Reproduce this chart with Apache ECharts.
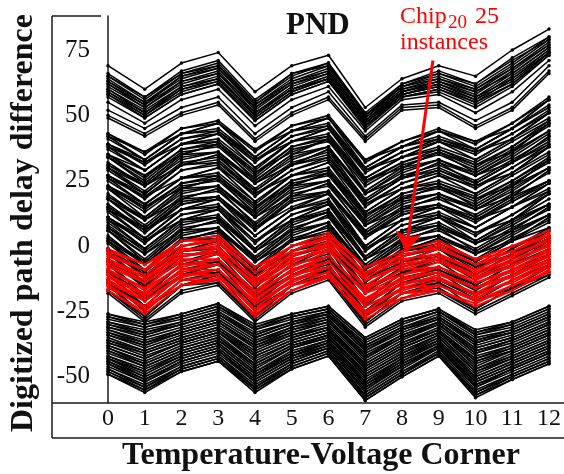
<!DOCTYPE html>
<html>
<head>
<meta charset="utf-8">
<script src="https://cdn.jsdelivr.net/npm/echarts@6/dist/echarts.min.js"></script>
<style>
  html, body { margin: 0; padding: 0; background: #fff; }
  #chart { width: 564px; height: 474px; }
</style>
</head>
<body>
<div id="chart"></div>
<script>
// Temperature-voltage corners on the x axis
const corners = [0, 1, 2, 3, 4, 5, 6, 7, 8, 9, 10, 11, 12];
const yTickValues = [-50, -25, 0, 25, 50, 75];

// Upper band of path-delay-difference traces (one row per path, one value per corner)
const upperPaths = [
  [69,60,70,74,59,69,73,53,64,69,65,75,83],
  [66,57,67,71,56,66,70,51,62,67,62,72,80],
  [65,57,66,69,55,66,69,50,61,66,62,71,79],
  [65,56,66,70,55,65,70,50,62,66,61,70,80],
  [64,55,65,69,54,64,69,50,61,65,60,69,79],
  [63,55,64,68,53,63,68,49,60,64,59,68,78],
  [63,54,65,68,54,63,67,49,61,64,60,68,77],
  [62,54,63,67,52,62,67,48,60,63,58,67,77],
  [62,53,63,66,53,62,66,48,59,63,59,66,76],
  [61,53,62,66,51,61,66,48,59,63,57,66,76],
  [60,52,61,65,50,60,65,47,59,62,56,65,75],
  [60,51,61,64,51,60,64,47,58,62,57,64,74],
  [59,51,60,64,50,60,65,47,58,61,55,64,75],
  [59,50,60,63,49,59,64,46,58,61,56,63,74],
  [58,50,59,63,49,59,64,46,57,60,54,62,74],
  [58,49,58,62,48,58,63,46,57,60,55,62,73],
  [57,49,58,62,48,58,63,45,57,59,53,61,73],
  [55,47,56,60,46,56,61,44,56,58,51,59,71],
  [52,45,53,57,43,53,59,42,54,55,48,55,69],
  [50,43,51,55,41,51,57,41,53,54,46,53,67],
  [49,42,50,54,40,50,56,40,52,53,45,52,66]
];

// Central band of traces
const middlePaths = [
  [43,36,45,48,37,46,50,33,40,45,40,47,57],
  [42,36,43,47,37,44,49,33,38,44,40,45,56],
  [42,33,43,47,34,44,49,30,38,44,37,45,56],
  [39,33,43,44,34,44,46,30,38,41,37,45,53],
  [39,32,41,44,33,42,46,29,36,41,36,43,52],
  [38,32,39,43,33,40,45,29,34,40,36,41,51],
  [38,29,39,43,30,40,45,26,34,40,33,41,51],
  [35,29,39,40,29,40,42,26,34,37,32,40,48],
  [35,27,37,40,28,38,42,25,32,37,31,38,48],
  [34,27,35,39,28,36,41,25,30,36,31,36,47],
  [34,24,35,39,25,35,41,21,30,36,28,36,47],
  [31,24,35,36,25,35,38,21,30,33,28,36,44],
  [31,23,33,36,24,33,38,20,28,33,27,34,43],
  [30,23,31,35,24,31,37,20,26,32,27,32,42],
  [30,20,31,35,21,31,37,17,26,32,24,32,42],
  [27,20,31,32,21,31,34,17,26,29,24,32,39],
  [27,19,29,32,20,29,34,16,24,29,23,30,39],
  [26,19,26,30,20,27,32,16,22,27,23,28,38],
  [26,16,26,30,17,27,32,13,22,27,20,28,38],
  [23,16,26,27,16,27,29,13,22,24,19,27,35],
  [23,15,24,27,15,25,29,12,20,24,18,25,34],
  [22,15,22,26,15,23,28,12,18,23,18,23,33],
  [22,11,22,26,12,23,28,9,18,23,15,23,33],
  [19,11,22,23,12,23,25,9,18,20,15,23,30],
  [19,10,20,23,11,21,25,8,16,20,14,21,30],
  [18,10,18,22,11,19,24,8,14,19,14,19,29],
  [18,7,18,22,8,19,24,5,14,19,11,19,29],
  [15,7,18,19,8,19,21,5,14,16,11,19,25],
  [15,6,16,19,7,17,21,4,12,16,10,17,25],
  [14,6,14,18,7,15,20,4,10,15,10,15,24],
  [14,3,14,18,4,14,20,0,10,15,7,15,24],
  [11,3,14,15,4,14,17,0,10,12,7,15,21],
  [11,2,12,15,2,12,17,-1,8,12,5,12,21],
  [10,2,10,14,2,10,16,-1,6,11,5,10,20],
  [10,-1,10,14,-1,10,16,-4,6,11,2,10,20],
  [7,-1,10,11,-1,10,13,-4,6,8,2,10,16],
  [7,-3,8,11,-2,8,13,-5,4,8,1,8,16],
  [6,-3,6,10,-2,6,12,-5,2,7,1,6,15],
  [6,-6,6,10,-5,6,12,-8,2,7,-2,6,15],
  [3,-6,6,7,-5,6,9,-8,2,4,-2,6,12],
  [3,-7,4,7,-6,4,9,-9,0,4,-3,4,12],
  [2,-7,2,6,-6,2,8,-9,-2,3,-3,2,11],
  [2,-10,2,6,-9,2,8,-12,-2,3,-6,2,11],
  [-1,-10,2,3,-9,2,5,-12,-2,0,-6,2,7],
  [-1,-11,0,3,-11,0,5,-13,-4,0,-8,-1,7],
  [-2,-11,-2,2,-11,-2,4,-13,-6,-1,-8,-3,6],
  [-2,-14,-2,2,-14,-2,4,-16,-6,-1,-11,-3,6],
  [-5,-14,-2,-1,-14,-2,1,-16,-6,-4,-11,-3,3],
  [-5,-15,-4,-1,-15,-4,1,-17,-8,-4,-12,-5,3],
  [-6,-15,-6,-2,-15,-6,0,-17,-10,-5,-12,-7,2],
  [-6,-19,-7,-3,-18,-7,-1,-21,-10,-6,-15,-7,1],
  [-9,-19,-7,-6,-18,-7,-4,-21,-10,-9,-15,-7,-2],
  [-9,-20,-9,-6,-19,-9,-4,-22,-12,-9,-16,-9,-2],
  [-10,-20,-11,-7,-19,-11,-5,-22,-14,-10,-16,-11,-3],
  [-10,-23,-11,-7,-22,-11,-5,-25,-14,-10,-19,-11,-3],
  [-13,-23,-11,-10,-22,-11,-8,-25,-14,-13,-19,-11,-6],
  [-13,-24,-13,-10,-23,-13,-8,-26,-16,-13,-20,-13,-6],
  [-14,-24,-15,-11,-24,-15,-9,-26,-18,-14,-21,-16,-7],
  [-14,-27,-15,-11,-27,-15,-9,-29,-18,-14,-24,-16,-8],
  [-17,-27,-15,-14,-27,-15,-12,-29,-18,-17,-24,-16,-11],
  [-17,-28,-17,-14,-28,-17,-12,-30,-20,-17,-25,-18,-11],
  [-18,-29,-18,-15,-29,-18,-13,-31,-21,-18,-26,-19,-12],
  [43,35,45,47,36,46,49,32,40,44,39,47,56],
  [41,33,43,45,34,44,47,30,38,42,37,45,54],
  [39,31,41,43,32,42,45,28,36,40,35,43,51],
  [37,29,39,41,30,40,43,26,34,38,33,41,49],
  [35,26,37,39,27,38,41,24,32,36,30,38,47],
  [34,25,36,38,26,37,40,23,31,35,29,37,46],
  [32,23,34,36,24,34,38,20,29,33,27,35,44],
  [30,21,32,34,22,32,36,18,27,31,25,33,41],
  [29,20,31,33,21,31,35,17,26,30,24,32,40],
  [27,18,29,31,19,29,33,15,24,28,22,30,38],
  [25,16,26,28,17,27,30,13,22,25,20,28,36],
  [23,14,24,26,14,25,28,11,20,23,17,25,33],
  [22,13,23,25,13,24,27,10,19,22,16,24,32],
  [20,10,21,23,11,22,25,8,17,20,14,22,30],
  [18,8,19,21,9,20,23,6,15,18,12,20,28],
  [16,6,17,19,7,18,21,4,13,16,10,18,25],
  [15,5,16,18,6,17,20,3,12,15,9,17,24],
  [13,3,14,16,4,14,18,0,10,13,7,15,22],
  [11,1,12,14,1,12,16,-2,8,11,4,12,20],
  [9,-1,10,12,-1,10,14,-4,6,9,2,10,18],
  [8,-2,9,11,-2,9,13,-5,5,8,1,9,16],
  [6,-5,7,9,-4,7,11,-7,3,6,-1,7,14],
  [4,-7,5,7,-6,5,9,-9,1,4,-3,5,12],
  [2,-9,3,5,-8,3,7,-11,-1,2,-5,3,10],
  [1,-10,2,4,-9,2,6,-12,-2,1,-6,2,9],
  [-1,-12,0,2,-12,0,4,-14,-4,-1,-9,-1,6],
  [-3,-14,-2,0,-14,-2,2,-16,-6,-3,-11,-3,4],
  [-5,-16,-4,-2,-16,-4,0,-18,-8,-5,-13,-5,2],
  [-7,-19,-7,-5,-18,-7,-3,-21,-10,-8,-15,-7,-1],
  [-9,-21,-9,-7,-20,-9,-5,-23,-12,-10,-17,-9,-3],
  [-11,-23,-11,-9,-22,-11,-7,-25,-14,-12,-19,-11,-5],
  [-13,-25,-13,-11,-24,-13,-9,-27,-16,-14,-21,-13,-7],
  [-15,-27,-15,-13,-27,-15,-11,-29,-18,-16,-24,-16,-10]
];

// Lower band of traces
const lowerPaths = [
  [-26,-29,-26,-22,-30,-26,-23,-35,-28,-24,-32,-29,-23],
  [-26,-30,-26,-22,-31,-26,-23,-35,-28,-24,-33,-29,-23],
  [-27,-30,-27,-23,-31,-27,-24,-36,-29,-25,-33,-30,-24],
  [-27,-31,-27,-23,-32,-27,-24,-36,-29,-25,-34,-30,-24],
  [-28,-31,-28,-24,-32,-28,-25,-37,-30,-25,-34,-31,-25],
  [-29,-32,-29,-25,-33,-29,-25,-38,-31,-26,-35,-32,-26],
  [-29,-33,-29,-25,-34,-29,-26,-38,-31,-27,-36,-32,-26],
  [-30,-33,-30,-26,-34,-29,-26,-39,-32,-27,-36,-33,-27],
  [-30,-34,-30,-26,-35,-30,-26,-39,-32,-27,-37,-33,-27],
  [-31,-34,-30,-26,-35,-30,-27,-40,-32,-28,-37,-33,-27],
  [-31,-35,-31,-27,-36,-31,-27,-40,-33,-28,-38,-34,-28],
  [-32,-36,-32,-28,-37,-31,-28,-41,-34,-29,-39,-35,-29],
  [-32,-37,-32,-28,-37,-32,-28,-42,-34,-29,-39,-35,-29],
  [-33,-37,-33,-29,-38,-32,-29,-42,-35,-29,-40,-36,-30],
  [-33,-38,-33,-29,-38,-33,-29,-43,-35,-30,-40,-36,-30],
  [-34,-38,-33,-29,-39,-33,-29,-43,-35,-30,-41,-36,-30],
  [-34,-39,-34,-30,-39,-34,-30,-44,-36,-30,-41,-37,-31],
  [-35,-40,-35,-31,-40,-34,-31,-45,-37,-31,-42,-38,-32],
  [-36,-40,-35,-31,-41,-35,-31,-45,-37,-32,-43,-38,-32],
  [-36,-41,-36,-32,-41,-35,-31,-46,-38,-32,-43,-39,-33],
  [-37,-41,-36,-32,-42,-36,-32,-46,-38,-32,-44,-39,-33],
  [-37,-42,-37,-33,-42,-36,-32,-47,-39,-33,-44,-40,-34],
  [-38,-43,-37,-33,-43,-37,-33,-47,-39,-33,-45,-40,-34],
  [-38,-43,-37,-33,-44,-37,-33,-47,-39,-33,-46,-40,-34],
  [-39,-44,-38,-34,-45,-38,-34,-48,-40,-34,-47,-41,-35],
  [-39,-45,-39,-35,-45,-38,-34,-49,-41,-34,-47,-42,-36],
  [-40,-45,-39,-35,-46,-39,-34,-49,-41,-35,-48,-42,-36],
  [-40,-46,-40,-36,-46,-39,-35,-50,-42,-35,-48,-43,-37],
  [-41,-46,-40,-36,-47,-39,-35,-50,-42,-36,-49,-43,-37],
  [-42,-47,-41,-37,-48,-40,-36,-51,-43,-36,-50,-44,-38],
  [-42,-48,-41,-37,-48,-41,-36,-52,-43,-37,-50,-44,-38],
  [-43,-48,-42,-38,-49,-41,-37,-52,-44,-37,-51,-45,-39],
  [-43,-49,-42,-38,-49,-42,-37,-53,-44,-37,-51,-45,-39],
  [-43,-50,-43,-39,-50,-42,-37,-53,-45,-38,-52,-46,-40],
  [-44,-50,-43,-39,-50,-42,-38,-54,-45,-38,-52,-46,-40],
  [-44,-51,-44,-40,-51,-43,-38,-54,-46,-38,-53,-47,-41],
  [-45,-51,-44,-40,-51,-43,-39,-55,-46,-39,-53,-47,-41],
  [-45,-52,-44,-40,-52,-44,-39,-55,-46,-39,-54,-47,-41],
  [-46,-52,-45,-41,-52,-44,-39,-56,-47,-39,-54,-48,-42],
  [-47,-53,-46,-42,-53,-45,-40,-57,-48,-40,-55,-49,-43],
  [-47,-54,-46,-42,-54,-45,-40,-57,-48,-41,-56,-49,-43],
  [-48,-54,-47,-43,-54,-46,-41,-58,-49,-41,-56,-50,-44],
  [-48,-55,-47,-43,-55,-46,-41,-58,-49,-41,-57,-50,-44],
  [-49,-55,-48,-44,-55,-47,-42,-59,-50,-42,-57,-51,-45],
  [-49,-56,-48,-44,-56,-47,-42,-59,-50,-42,-58,-51,-45]
];

// The 25 instances of Chip 20
const chip20Paths = [
  [-1,-7,2,4,-8,0,5,-8,-2,2,-5,0,6],
  [-2,-7,0,3,-8,-2,4,-8,-4,1,-5,-2,5],
  [-3,-9,2,2,-10,0,3,-10,-3,-1,-7,0,4],
  [-3,-9,0,2,-10,-2,3,-11,-4,0,-7,-2,4],
  [-4,-9,-2,1,-10,-4,2,-10,-6,-1,-7,-4,3],
  [-5,-11,-1,-1,-12,-3,0,-12,-5,-3,-9,-3,2],
  [-5,-12,-2,0,-13,-4,1,-13,-7,-3,-10,-4,2],
  [-6,-12,-4,-1,-13,-6,0,-13,-8,-4,-9,-6,1],
  [-7,-13,-3,-3,-14,-5,-2,-15,-7,-5,-11,-5,0],
  [-7,-14,-4,-2,-15,-6,-1,-16,-9,-5,-12,-6,0],
  [-8,-14,-6,-3,-15,-8,-2,-15,-11,-6,-12,-8,-1],
  [-9,-16,-5,-5,-17,-7,-4,-17,-9,-8,-13,-7,-2],
  [-9,-17,-7,-5,-18,-9,-4,-18,-11,-8,-14,-9,-2],
  [-10,-16,-8,-5,-17,-10,-4,-18,-13,-8,-14,-10,-3],
  [-11,-18,-7,-7,-19,-9,-6,-20,-12,-10,-16,-9,-4],
  [-11,-19,-9,-7,-20,-11,-6,-21,-13,-10,-16,-11,-4],
  [-12,-19,-10,-7,-20,-12,-6,-20,-15,-11,-16,-12,-5],
  [-13,-20,-9,-9,-21,-11,-8,-22,-14,-12,-18,-11,-6],
  [-13,-21,-11,-9,-22,-13,-8,-23,-16,-12,-19,-13,-6],
  [-14,-21,-12,-9,-22,-14,-8,-23,-17,-13,-18,-14,-7],
  [-15,-23,-11,-11,-24,-13,-10,-25,-16,-15,-20,-13,-8],
  [-15,-24,-13,-11,-25,-15,-10,-26,-18,-15,-21,-15,-8],
  [-16,-23,-15,-12,-24,-17,-11,-25,-20,-15,-21,-17,-9],
  [-17,-25,-13,-13,-26,-15,-12,-27,-18,-17,-22,-15,-10],
  [-17,-26,-15,-13,-27,-17,-12,-28,-20,-17,-23,-17,-10]
];

// Annotation arrow: from the caption down to the Chip 20 band at corner 8
const arrowFrom = [8.84, 71];
const arrowTo = [8.11, -2.3];

const serif = "'Liberation Serif', 'Times New Roman', serif";
const ink = '#111';

function pathSeries(rows, color, width) {
  return rows.map(function (row) {
    return {
      type: 'line',
      data: row.map(function (v, i) { return [corners[i], v]; }),
      symbol: 'circle',
      symbolSize: 3.5,
      showSymbol: true,
      lineStyle: { color: color, width: width },
      itemStyle: { color: color },
      emphasis: { disabled: true },
      silent: true,
      animation: false
    };
  });
}

const series = []
  .concat(pathSeries(lowerPaths, '#000', 1.6))
  .concat(pathSeries(upperPaths, '#000', 1.5))
  .concat(pathSeries(middlePaths, '#000', 1.6))
  .concat(pathSeries(chip20Paths, '#ff0000', 1.8));

// Arrow pointing at the highlighted chip
series.push({
  type: 'line',
  data: [],
  silent: true,
  animation: false,
  markLine: {
    silent: true,
    animation: false,
    symbol: ['none', 'arrow'],
    symbolSize: 20,
    label: { show: false },
    lineStyle: { color: '#ff0000', width: 3, type: 'solid' },
    data: [[{ coord: arrowFrom }, { coord: arrowTo }]]
  }
});

const frame = { stroke: '#1a1a1a', lineWidth: 1.5 };

const chart = echarts.init(document.getElementById('chart'), null, { renderer: 'canvas' });
chart.setOption({
  animation: false,
  backgroundColor: '#fff',
  title: {
    text: 'PND',
    left: 281,
    top: 5,
    textStyle: { fontFamily: serif, fontWeight: 'bold', fontSize: 31, color: ink }
  },
  grid: { left: 108, right: 12, top: 16, bottom: 71, containLabel: false },
  xAxis: {
    type: 'value',
    min: 0,
    max: 12,
    interval: 1,
    axisLine: { show: false },
    axisTick: { show: false },
    splitLine: { show: false },
    axisLabel: { fontFamily: serif, fontSize: 24, color: ink, margin: 4 }
  },
  yAxis: {
    type: 'value',
    min: -60,
    max: 88,
    offset: 7,
    axisLine: { show: true, lineStyle: { color: '#1a1a1a', width: 1.5 } },
    axisTick: { show: false },
    splitLine: { show: false },
    axisLabel: {
      customValues: yTickValues,
      fontFamily: serif, fontSize: 25, color: ink, margin: 11
    }
  },
  graphic: [
    { type: 'line', shape: { x1: 52, y1: 16, x2: 101, y2: 16 }, style: frame, silent: true },
    { type: 'line', shape: { x1: 52, y1: 16, x2: 52, y2: 438 }, style: frame, silent: true },
    { type: 'line', shape: { x1: 52, y1: 403, x2: 564, y2: 403 }, style: frame, silent: true },
    { type: 'line', shape: { x1: 52, y1: 438, x2: 564, y2: 438 }, style: frame, silent: true },
    {
      type: 'text', x: 24, y: 223, rotation: Math.PI / 2, silent: true,
      style: { text: 'Digitized path delay difference', fontFamily: serif, fontWeight: 'bold',
               fontSize: 32, fill: ink, align: 'center', verticalAlign: 'middle' }
    },
    {
      type: 'text', x: 321, y: 456, silent: true,
      style: { text: 'Temperature-Voltage Corner', fontFamily: serif, fontWeight: 'bold',
               fontSize: 32, fill: ink, align: 'center', verticalAlign: 'middle' }
    },
    { type: 'text', x: 400, y: 5, silent: true,
      style: { text: 'Chip', fontFamily: serif, fontSize: 24, fill: '#ff0000', verticalAlign: 'top' } },
    { type: 'text', x: 448, y: 14, silent: true,
      style: { text: '20', fontFamily: serif, fontSize: 19, fill: '#ff0000', verticalAlign: 'top' } },
    { type: 'text', x: 475, y: 5, silent: true,
      style: { text: '25', fontFamily: serif, fontSize: 24, fill: '#ff0000', verticalAlign: 'top' } },
    { type: 'text', x: 400, y: 31, silent: true,
      style: { text: 'instances', fontFamily: serif, fontSize: 24, fill: '#ff0000', verticalAlign: 'top' } }
  ],
  series: series
});
</script>
</body>
</html>
